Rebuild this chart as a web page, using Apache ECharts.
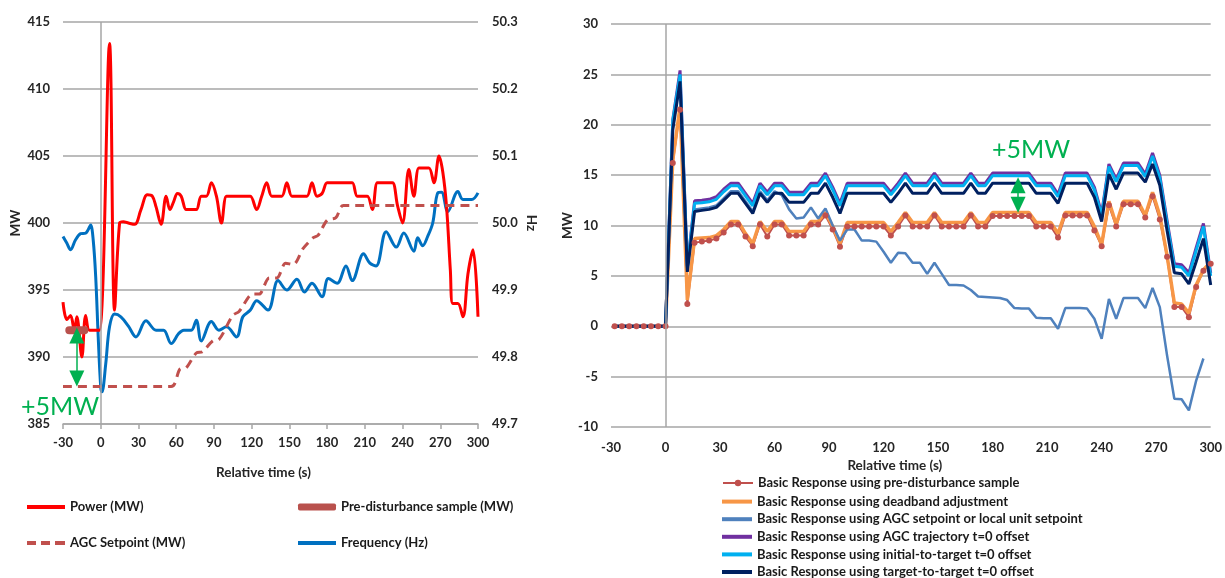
<!DOCTYPE html>
<html>
<head>
<meta charset="utf-8">
<title>Basic Response</title>
<script src="https://cdn.jsdelivr.net/npm/echarts@6/dist/echarts.min.js"></script>
<style>
  html, body { margin: 0; padding: 0; background: #fff; }
  #chart { width: 1225px; height: 578px; }
</style>
</head>
<body>
<div id="chart"></div>
<script>
// ---- left panel: power / setpoint / frequency ----
var powerTime = [-30, -27, -24, -21, -19, -15, -12, -9, -5, -1, 7, 11, 15, 18, 22, 27, 32, 37, 41, 44,
  48, 52, 55, 58, 61, 64, 68, 72, 76, 80, 84, 88, 92, 96, 100, 104, 108, 112, 116, 119,
  124, 128, 132, 136, 140, 144, 148, 152, 156, 160, 164, 168, 172, 176, 180, 184, 188, 192, 196, 200,
  204, 208, 212, 216, 220, 224, 228, 232, 236, 240, 245, 249, 253, 257, 261, 265, 269, 272, 275, 278,
  280, 284, 288, 292, 296, 300];
var powerMW = [394.1, 392.8, 393.1, 392.0, 393.0, 390.0, 393.1, 392.0, 392.0, 392.0, 413.4, 393.5, 400.0, 400.1, 400.0, 399.9, 401.0, 402.1, 402.0, 401.2,
  399.9, 402.0, 401.0, 401.6, 402.2, 402.0, 401.0, 401.0, 401.0, 402.0, 402.0, 403.0, 402.0, 400.0, 402.0, 402.0, 402.0, 402.0, 402.0, 402.0,
  401.0, 402.0, 403.0, 402.0, 402.0, 402.0, 403.0, 402.0, 402.0, 402.0, 402.0, 403.0, 402.0, 402.2, 403.0, 403.0, 403.0, 403.0, 403.0, 403.0,
  402.0, 402.0, 402.0, 401.0, 403.0, 403.0, 403.0, 403.0, 401.3, 400.0, 404.0, 402.0, 404.1, 404.1, 404.1, 403.0, 405.0, 403.8, 401.2, 396.5,
  394.0, 394.0, 393.0, 396.2, 398.0, 393.0];

var preSampleTime = [-25, -21, -17, -13];
var preSampleMW = [392.0, 392.0, 392.0, 392.0];

var agcTime = [-30, 56, 63, 68, 76, 81, 89, 94, 105, 110, 121, 126, 134, 140, 147, 153, 161, 169, 173, 180, 187, 193, 300];
var agcMW = [387.8, 387.8, 389.1, 389.2, 390.3, 390.4, 391.2, 391.3, 393.1, 393.4, 394.7, 394.7, 395.9, 395.9, 397.0, 396.9, 398.1, 398.9, 399.1, 400.2, 400.4, 401.3, 401.3];

var freqTime = [-30, -27, -24, -20, -16, -12, -10, -8, -6, -4, -2, 0, 1, 4, 7, 11, 16, 22, 28, 36,
  44, 50, 56, 62, 66, 72, 76, 80, 88, 94, 100, 108, 113, 119, 124, 133, 141, 148, 156, 162,
  168, 176, 181, 188, 195, 200, 209, 214, 219, 227, 235, 241, 249, 252, 256, 260, 264, 268, 271, 276,
  284, 288, 295, 300];
var freqHz = [49.98, 49.97, 49.96, 49.975, 49.984, 49.985, 49.99, 49.997, 49.975, 49.92, 49.83, 49.755, 49.748, 49.79, 49.845, 49.864, 49.86, 49.846, 49.83, 49.854,
  49.84, 49.84, 49.82, 49.835, 49.84, 49.84, 49.855, 49.824, 49.853, 49.84, 49.845, 49.83, 49.86, 49.87, 49.884, 49.87, 49.914, 49.90, 49.916, 49.897,
  49.91, 49.89, 49.917, 49.91, 49.936, 49.914, 49.954, 49.94, 49.936, 49.987, 49.964, 49.985, 49.958, 49.978, 49.966, 49.98, 50.0, 50.045, 50.046, 50.017,
  50.047, 50.035, 50.035, 50.045];

// ---- right panel: basic response, 4 s samples ----
var respTime = [-28, -24, -20, -16, -12, -8, -4,
  0, 4, 8, 12, 16, 20, 24, 28, 32, 36, 40, 44, 48, 52, 56, 60, 64, 68, 72, 76,
  80, 84, 88, 92, 96, 100, 104, 108, 112, 116, 120, 124, 128, 132, 136, 140, 144, 148, 152, 156,
  160, 164, 168, 172, 176, 180, 184, 188, 192, 196, 200, 204, 208, 212, 216, 220, 224, 228, 232, 236,
  240, 244, 248, 252, 256, 260, 264, 268, 272, 276, 280, 284, 288, 292, 296, 300];

var respPreSample = [0, 0, 0, 0, 0, 0, 0,
  0, 16.2, 21.5, 2.2, 8.3, 8.4, 8.5, 8.7, 9.3, 10.1, 10.1, 8.9, 7.95, 10.1, 8.9, 10.1, 10.1, 9.0, 9.0, 9.0,
  10.1, 10.1, 11.0, 9.6, 7.9, 9.9, 9.9, 9.9, 9.9, 9.9, 9.9, 9.0, 9.9, 11.0, 9.9, 9.9, 9.9, 11.0, 9.9, 9.9,
  9.9, 9.9, 11.0, 9.9, 9.9, 10.95, 10.95, 10.95, 10.95, 10.95, 10.95, 9.9, 9.9, 9.9, 8.8, 11.0, 11.0, 11.0, 11.0, 9.5,
  7.95, 12.0, 9.9, 12.1, 12.1, 12.1, 10.8, 12.9, 10.6, 6.9, 1.9, 1.9, 0.9, 3.9, 5.5, 6.2];

var respDeadband = [0, 0, 0, 0, 0, 0, 0,
  0, 16.5, 21.8, 2.6, 8.7, 8.75, 8.8, 9.0, 9.6, 10.4, 10.4, 9.2, 8.2, 10.4, 9.4, 10.4, 10.4, 9.4, 9.4, 9.4,
  10.4, 10.4, 11.3, 9.9, 8.2, 10.3, 10.3, 10.3, 10.3, 10.3, 10.3, 9.4, 10.3, 11.3, 10.3, 10.3, 10.3, 11.3, 10.3, 10.3,
  10.3, 10.3, 11.3, 10.3, 10.3, 11.3, 11.3, 11.3, 11.3, 11.3, 11.3, 10.3, 10.3, 10.3, 9.2, 11.3, 11.3, 11.3, 11.3, 9.9,
  8.1, 12.4, 10.1, 12.4, 12.4, 12.4, 11.0, 13.3, 11.0, 7.0, 2.3, 2.2, 1.3, 4.1, 5.6, 6.4];

var respAgcSetpoint = [0, 0, 0, 0, 0, 0, 0,
  0, 19.7, 24.5, 5.6, 11.6, 11.7, 11.8, 12.0, 12.7, 13.4, 13.4, 12.4, 11.4, 13.4, 12.5, 13.4, 13.0, 11.6, 10.7, 10.8,
  11.8, 10.7, 11.7, 10.0, 8.5, 9.6, 9.6, 8.5, 8.5, 8.4, 7.4, 6.3, 7.3, 7.25, 6.3, 6.3, 5.2, 6.3, 5.2, 4.1,
  4.1, 4.05, 3.6, 2.95, 2.9, 2.85, 2.8, 2.6, 1.8, 1.75, 1.75, 0.85, 0.8, 0.8, -0.25, 1.8, 1.8, 1.8, 1.75, 0.74,
  -1.25, 2.7, 0.74, 2.8, 2.8, 2.8, 1.8, 3.8, 1.9, -2.9, -7.2, -7.25, -8.35, -5.4, -3.2, null];

var respAgcTrajectory = [0, 0, 0, 0, 0, 0, 0,
  0, 20.5, 25.4, 6.0, 12.45, 12.5, 12.6, 12.85, 13.6, 14.2, 14.2, 13.2, 12.2, 14.2, 13.3, 14.2, 14.2, 13.3, 13.3, 13.3,
  14.2, 14.2, 15.2, 13.8, 12.2, 14.2, 14.2, 14.2, 14.2, 14.2, 14.2, 13.3, 14.2, 15.2, 14.2, 14.2, 14.2, 15.2, 14.2, 14.2,
  14.2, 14.2, 15.2, 14.2, 14.2, 15.2, 15.2, 15.2, 15.2, 15.2, 15.2, 14.2, 14.2, 14.2, 13.1, 15.2, 15.2, 15.2, 15.2, 13.8,
  11.2, 16.1, 14.6, 16.2, 16.2, 16.2, 15.1, 17.2, 15.0, 10.5, 6.2, 6.1, 5.3, 7.8, 10.2, 5.3];

var respInitialToTarget = [0, 0, 0, 0, 0, 0, 0,
  0, 20.4, 25.0, 5.8, 12.2, 12.25, 12.35, 12.6, 13.35, 13.95, 13.95, 12.95, 11.95, 13.95, 13.05, 13.95, 13.95, 13.05, 13.05, 13.05,
  13.95, 13.95, 14.95, 13.55, 11.95, 13.95, 13.95, 13.95, 13.95, 13.95, 13.95, 13.05, 13.95, 14.95, 13.95, 13.95, 13.95, 14.95, 13.95, 13.95,
  13.95, 13.95, 14.95, 13.95, 13.95, 14.95, 14.95, 14.95, 14.95, 14.95, 14.95, 13.95, 13.95, 13.95, 12.85, 14.95, 14.95, 14.95, 14.95, 13.55,
  11.0, 15.85, 14.35, 15.95, 15.95, 15.95, 14.85, 16.9, 14.75, 10.2, 5.95, 5.85, 5.0, 7.5, 9.9, 5.0];

var respTargetToTarget = [0, 0, 0, 0, 0, 0, 0,
  0, 19.5, 24.3, 5.4, 11.4, 11.5, 11.6, 11.8, 12.5, 13.2, 13.2, 12.2, 11.2, 13.2, 12.3, 13.2, 13.2, 12.3, 12.3, 12.3,
  13.2, 13.2, 14.2, 12.8, 11.2, 13.2, 13.2, 13.2, 13.2, 13.2, 13.2, 12.3, 13.2, 14.2, 13.2, 13.2, 13.2, 14.2, 13.2, 13.2,
  13.2, 13.2, 14.2, 13.2, 13.2, 14.2, 14.2, 14.2, 14.2, 14.2, 14.2, 13.2, 13.2, 13.2, 12.2, 14.2, 14.2, 14.2, 14.2, 12.8,
  10.4, 15.1, 13.6, 15.2, 15.2, 15.2, 14.3, 16.1, 14.0, 9.5, 5.3, 5.2, 4.2, 6.4, 8.7, 4.1];

// the two "+5MW" arrows (time, from, to)
var leftArrow = [-19, 391.6, 388.4];
var rightArrow = [194, 14.0, 12.05];

var FONT = 'Lato, "Liberation Sans", sans-serif';
var GRID_COLOR = '#a6a6a6';
var GREEN = '#00b050';
var DASH_ICON = 'path://M0,0h9v4h-9z M14,0h9v4h-9z M28,0h10v4h-10z';

function pairs(xs, ys) {
  return xs.map(function (x, i) {
    return [x, ys[i]];
  });
}

var labelStyle = { color: '#262626', fontSize: 13, fontWeight: 'bold', fontFamily: FONT };
var nameStyle = { color: '#262626', fontSize: 13.5, fontWeight: 'bold', fontFamily: FONT };
var legendText = { color: '#1a1a1a', fontSize: 13, fontWeight: 'bold', fontFamily: FONT, lineHeight: 14 };

function zeroLine() {
  return {
    silent: true,
    symbol: 'none',
    label: { show: false },
    lineStyle: { color: GRID_COLOR, width: 1.5, type: 'solid' },
    data: [{ xAxis: 0 }]
  };
}

function arrowLine(a) {
  return {
    silent: true,
    symbol: ['triangle', 'triangle'],
    symbolSize: [15, 16],
    label: { show: false },
    lineStyle: { color: GREEN, width: 1.5, type: 'solid' },
    itemStyle: { color: GREEN },
    data: [[{ coord: [a[0], a[1]] }, { coord: [a[0], a[2]] }]]
  };
}

function legendBox(left, top, names, icon, w, h, gap) {
  return {
    orient: 'vertical', left: left, top: top, padding: 0, height: 110,
    icon: icon, itemWidth: w, itemHeight: h, itemGap: gap || 0,
    textStyle: legendText, selectedMode: false,
    data: names
  };
}

function respSeries(name, values, color, width, extra) {
  var s = {
    name: name,
    type: 'line',
    xAxisIndex: 1,
    yAxisIndex: 2,
    data: pairs(respTime, values),
    symbol: 'none',
    connectNulls: false,
    lineStyle: { color: color, width: width },
    itemStyle: { color: color }
  };
  return Object.assign(s, extra || {});
}

var chart = echarts.init(document.getElementById('chart'));
chart.setOption({
  animation: false,
  backgroundColor: '#fff',
  grid: [
    { left: 63, top: 22, width: 415, height: 402 },
    { left: 611, top: 24, width: 602, height: 403 }
  ],
  xAxis: [
    {
      gridIndex: 0, type: 'value', min: -30, max: 300, interval: 30,
      axisLine: { show: true, lineStyle: { color: GRID_COLOR, width: 1.5 } },
      axisTick: { show: true, length: 5, lineStyle: { color: GRID_COLOR, width: 1.5 } },
      axisLabel: Object.assign({ margin: 12 }, labelStyle),
      splitLine: { show: false },
      name: 'Relative time (s)', nameLocation: 'middle', nameGap: 42,
      nameTextStyle: Object.assign({ padding: [0, 14, 0, 0] }, nameStyle)
    },
    {
      gridIndex: 1, type: 'value', min: -30, max: 300, interval: 30,
      axisLine: { show: false },
      axisTick: { show: false },
      axisLabel: Object.assign({ margin: 14 }, labelStyle),
      splitLine: { show: false },
      name: 'Relative time (s)', nameLocation: 'middle', nameGap: 31,
      nameTextStyle: Object.assign({ padding: [0, 32, 0, 0] }, nameStyle)
    }
  ],
  yAxis: [
    {
      gridIndex: 0, type: 'value', min: 385, max: 415, interval: 5,
      axisLine: { show: false }, axisTick: { show: false },
      axisLabel: Object.assign({ margin: 13 }, labelStyle),
      splitLine: { show: true, lineStyle: { color: GRID_COLOR, width: 1.5 } },
      name: 'MW', nameLocation: 'middle', nameGap: 40, nameTextStyle: nameStyle
    },
    {
      gridIndex: 0, type: 'value', position: 'right', min: 49.7, max: 50.3, interval: 0.1,
      axisLine: { show: false }, axisTick: { show: false },
      axisLabel: Object.assign({
        margin: 14,
        formatter: function (v) { return v.toFixed(1); }
      }, labelStyle),
      splitLine: { show: false },
      name: 'Hz', nameLocation: 'middle', nameRotate: -90, nameGap: 46, nameTextStyle: nameStyle
    },
    {
      gridIndex: 1, type: 'value', min: -10, max: 30, interval: 5,
      axisLine: { show: false }, axisTick: { show: false },
      axisLabel: Object.assign({ margin: 13 }, labelStyle),
      splitLine: { show: true, lineStyle: { color: GRID_COLOR, width: 1.5 } },
      name: 'MW', nameLocation: 'middle', nameGap: 36, nameTextStyle: nameStyle
    }
  ],
  legend: [
    legendBox(27, 500, ['Power (MW)'], 'rect', 38, 4),
    legendBox(27, 536, ['AGC Setpoint (MW)'], DASH_ICON, 38, 4),
    legendBox(298, 500, ['Pre-disturbance sample (MW)'], 'roundRect', 38, 7),
    legendBox(298, 536, ['Frequency (Hz)'], 'rect', 38, 4),
    legendBox(722, 476, ['Basic Response using pre-disturbance sample'], undefined, 30, 8),
    legendBox(722, 494.6, [
      'Basic Response using deadband adjustment',
      'Basic Response using AGC setpoint or local unit setpoint',
      'Basic Response using AGC trajectory t=0 offset',
      'Basic Response using initial-to-target t=0 offset',
      'Basic Response using target-to-target t=0 offset'
    ], 'rect', 30, 4, 3.6)
  ],
  graphic: [
    { type: 'text', left: 21, top: 394, silent: true,
      style: { text: '+5MW', fill: GREEN, fontSize: 25, fontFamily: FONT } },
    { type: 'text', left: 992, top: 137, silent: true,
      style: { text: '+5MW', fill: GREEN, fontSize: 25, fontFamily: FONT } }
  ],
  series: [
    {
      name: 'Frequency (Hz)', type: 'line', xAxisIndex: 0, yAxisIndex: 1,
      data: pairs(freqTime, freqHz), smooth: 0.35, symbol: 'none',
      lineStyle: { color: '#0070c0', width: 3 }, itemStyle: { color: '#0070c0' },
      markLine: zeroLine()
    },
    {
      name: 'Power (MW)', type: 'line', xAxisIndex: 0, yAxisIndex: 0,
      data: pairs(powerTime, powerMW), smooth: 0.35, symbol: 'none',
      lineStyle: { color: '#ff0000', width: 3 }, itemStyle: { color: '#ff0000' }
    },
    {
      name: 'AGC Setpoint (MW)', type: 'line', xAxisIndex: 0, yAxisIndex: 0,
      data: pairs(agcTime, agcMW), smooth: 0.3, symbol: 'none',
      lineStyle: { color: '#c0504d', width: 3, type: [9, 6] }, itemStyle: { color: '#c0504d' }
    },
    {
      name: 'Pre-disturbance sample (MW)', type: 'line', xAxisIndex: 0, yAxisIndex: 0,
      data: pairs(preSampleTime, preSampleMW), symbol: 'none', z: 4,
      lineStyle: { color: '#b9514d', width: 8, cap: 'round' }, itemStyle: { color: '#b9514d' },
      markLine: arrowLine(leftArrow)
    },
    respSeries('Basic Response using pre-disturbance sample', respPreSample, '#c0504d', 2,
      { symbol: 'circle', symbolSize: 6, showSymbol: true, markLine: zeroLine() }),
    respSeries('Basic Response using deadband adjustment', respDeadband, '#f79646', 3.5),
    respSeries('Basic Response using AGC setpoint or local unit setpoint', respAgcSetpoint, '#4f81bd', 2.5),
    respSeries('Basic Response using AGC trajectory t=0 offset', respAgcTrajectory, '#7030a0', 3),
    respSeries('Basic Response using initial-to-target t=0 offset', respInitialToTarget, '#00b0f0', 3),
    respSeries('Basic Response using target-to-target t=0 offset', respTargetToTarget, '#002060', 3,
      { markLine: arrowLine(rightArrow) })
  ]
});
</script>
</body>
</html>
